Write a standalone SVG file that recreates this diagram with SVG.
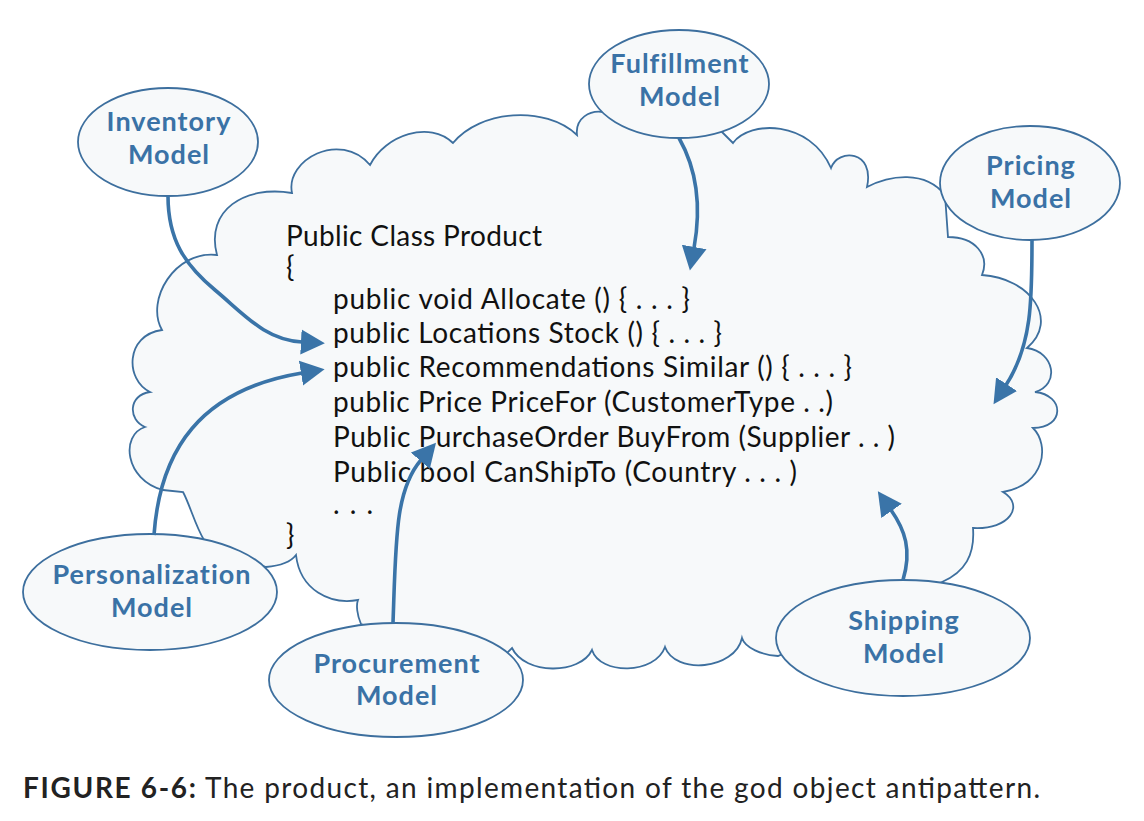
<svg xmlns="http://www.w3.org/2000/svg" width="1144" height="821" viewBox="0 0 1144 821">
<defs>
<style>
.cloud{fill:#f7f9fa;stroke:#3d6f9e;stroke-width:1.8}
.node ellipse{fill:#f7f9fa;stroke:#3d6f9e;stroke-width:1.8}
.lbl{font-family:Lato,"Liberation Sans",sans-serif;font-weight:bold;font-size:27px;letter-spacing:1px;fill:#3a72a6;text-anchor:middle}
.code{font-family:Lato,"Liberation Sans",sans-serif;font-size:28px;fill:#111}
.cap{font-family:Lato,"Liberation Sans",sans-serif;font-size:28px;fill:#222}
.conn path{fill:none;stroke:#3a74a8;stroke-width:3.6}
</style>
<marker id="ah" markerUnits="userSpaceOnUse" markerWidth="25" markerHeight="26" refX="1" refY="12" orient="auto" viewBox="0 0 24 24">
<path d="M0,0 L23,12 L0,24 Z" fill="#3a74a8"/>
</marker>
</defs>
<rect width="1144" height="821" fill="#ffffff"/>

<path class="cloud" d="M292,193 C285,160 340,130 370,165 C385,135 430,120 453,143 C480,110 545,105 577,135 C575,118 590,110 603,112 L640,125 L718,128 L733,143 C750,120 810,120 831,168 C838,148 875,150 867,187 C890,175 925,170 945,195 L948,237 C975,237 990,255 982,275 C1030,278 1060,320 1027,348 C1055,352 1060,385 1035,392 C1065,395 1065,428 1033,428 C1050,445 1045,485 1003,492 C1025,505 1010,530 973,528 C975,555 965,572 942,582 L861,619 L778,656 C762,655 745,648 742,638 C735,670 675,675 665,647 C655,675 600,675 592,650 C580,675 525,675 512,648 L500,660 L400,640 L361,624 C357,615 356,605 358,600 C330,605 300,590 296,555 C290,563 278,566 266,567 L204,545 L204,540 C195,525 190,505 183,492 L163,490 C125,480 120,435 145,427 C128,420 128,395 150,392 C125,380 125,335 162,330 C145,300 175,250 217,255 C205,210 245,185 292,193 Z"/>

<g id="code">
<text class="code" x="286" y="246" textLength="256" lengthAdjust="spacing">Public Class Product</text>
<text class="code" x="286" y="277">{</text>
<text class="code" x="333" y="309" textLength="357" lengthAdjust="spacing">public void Allocate () { . . . }</text>
<text class="code" x="333" y="343" textLength="389" lengthAdjust="spacing">public Locations Stock () { . . . }</text>
<text class="code" x="333" y="377" textLength="519" lengthAdjust="spacing">public Recommendations Similar () { . . . }</text>
<text class="code" x="333" y="412" textLength="500" lengthAdjust="spacing">public Price PriceFor (CustomerType . .)</text>
<text class="code" x="333" y="447" textLength="562" lengthAdjust="spacing">Public PurchaseOrder BuyFrom (Supplier . . )</text>
<text class="code" x="333" y="482" textLength="464" lengthAdjust="spacing">Public bool CanShipTo (Country . . . )</text>
<text class="code" x="333" y="514" textLength="40" lengthAdjust="spacing">. . .</text>
<text class="code" x="286" y="545">}</text>
</g>

<g id="inventory" class="node">
<ellipse cx="168" cy="142" rx="90" ry="54"/>
<text class="lbl" x="169" y="131">Inventory</text>
<text class="lbl" x="169" y="164">Model</text>
</g>
<g id="fulfillment" class="node">
<ellipse cx="679" cy="84" rx="90" ry="54"/>
<text class="lbl" x="680" y="73">Fulfillment</text>
<text class="lbl" x="680" y="106">Model</text>
</g>
<g id="pricing" class="node">
<ellipse cx="1030" cy="183" rx="90" ry="57"/>
<text class="lbl" x="1031" y="175">Pricing</text>
<text class="lbl" x="1031" y="208">Model</text>
</g>
<g id="personalization" class="node">
<ellipse cx="150" cy="592" rx="127" ry="58"/>
<text class="lbl" x="152" y="584">Personalization</text>
<text class="lbl" x="152" y="617">Model</text>
</g>
<g id="procurement" class="node">
<ellipse cx="396" cy="680" rx="127" ry="57"/>
<text class="lbl" x="397" y="673">Procurement</text>
<text class="lbl" x="397" y="705">Model</text>
</g>
<g id="shipping" class="node">
<ellipse cx="903" cy="638" rx="127" ry="58"/>
<text class="lbl" x="904" y="630">Shipping</text>
<text class="lbl" x="904" y="663">Model</text>
</g>

<g id="connectors" class="conn">
<path d="M168,196 C168,240 185,265 215,290 S265,340 302,342" marker-end="url(#ah)"/>
<path d="M154,535 C160,450 200,390 302,373" marker-end="url(#ah)"/>
<path d="M393,623 C396,540 395,490 421,460" marker-end="url(#ah)"/>
<path d="M679,138 C700,175 700,215 694,248" marker-end="url(#ah)"/>
<path d="M1032,240 C1032,300 1032,345 1006,385" marker-end="url(#ah)"/>
<path d="M903,580 C912,550 905,530 891,510" marker-end="url(#ah)"/>
</g>

<text class="cap" x="23" y="798" font-weight="bold" textLength="173" lengthAdjust="spacing">FIGURE 6-6:</text>
<text class="cap" x="205" y="798" textLength="835" lengthAdjust="spacing">The product, an implementation of the god object antipattern.</text>
</svg>
